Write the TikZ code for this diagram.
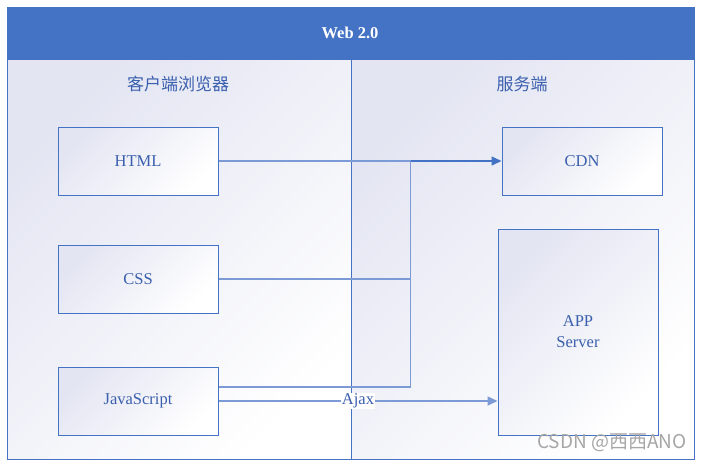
\documentclass[tikz,border=0pt]{standalone}
\usepackage{fontspec}
\setmainfont{Liberation Serif}
\newfontfamily\cjk{Noto Sans CJK SC}
\usetikzlibrary{arrows.meta,positioning}
\definecolor{wordblue}{HTML}{4472C4}
\definecolor{inkblue}{HTML}{3A5FAE}
\definecolor{lineblue}{HTML}{7C9AD6}
\definecolor{lav}{HTML}{E3E5F2}
\tikzset{
  block/.style={draw=wordblue, line width=1pt, top color=lav, bottom color=white,
    shading angle=45, minimum width=160, minimum height=68,
    text=inkblue, font=\fontsize{16.5pt}{21pt}\selectfont},
  link/.style={lineblue, line width=1.6pt},
  tip/.style={-{Triangle[length=10pt,width=9pt]}},
}
\begin{document}
\begin{tikzpicture}[x=1pt,y=-1pt]
  \useasboundingbox (0,0) rectangle (702,464);
  % fundo das duas colunas
  \shade[top color=lav, bottom color=white, shading angle=45] (7,60) rectangle (351,459);
  \shade[top color=lav, bottom color=white, shading angle=45] (351,60) rectangle (694,459);
  \fill[wordblue] (7,7) rectangle (694,60);
  \draw[wordblue, line width=1pt] (7,7) rectangle (694,459);
  \draw[wordblue, line width=1pt] (351,60) -- (351,459);
  \node[text=white, font=\fontsize{16.5pt}{16pt}\selectfont\bfseries] (title) at (350,33) {Web 2.0};
  \node[text=inkblue, font=\cjk\fontsize{17pt}{17pt}\selectfont] (client) at (178,84) {客户端浏览器};
  \node[text=inkblue, font=\cjk\fontsize{17pt}{17pt}\selectfont] (server) at (522,84) {服务端};

  % caixas
  \node[block] (html) at (138,161) {HTML};
  \node[block] (css) at (138,279) {CSS};
  \node[block] (js) at (138,401) {JavaScript};
  \node[block] (cdn) at (582,161) {CDN};
  \node[block, minimum height=206, align=center] (app) at (578,332) {APP\\Server};

  % ligações
  \coordinate (join) at ([xshift=192pt]html.east);
  \coordinate (jsup) at ([yshift=14pt]js.east);
  \draw[link] (html.east) -- (join);
  \draw[link] (css.east) -| (join);
  \draw[link] (jsup) -| (join);
  \draw[wordblue, line width=1.6pt, tip] (join) -- (cdn.west);
  \draw[link, tip] (js.east) -- node[fill=white, inner sep=1pt, text=inkblue,
    font=\fontsize{16.5pt}{16pt}\selectfont] (ajax) {Ajax} (app.west |- js.east);

  \node[text=black!35, font=\cjk\fontsize{19pt}{19pt}\selectfont, anchor=east] (mark) at (690,443) {CSDN @西西ANO};
\end{tikzpicture}
\end{document}
